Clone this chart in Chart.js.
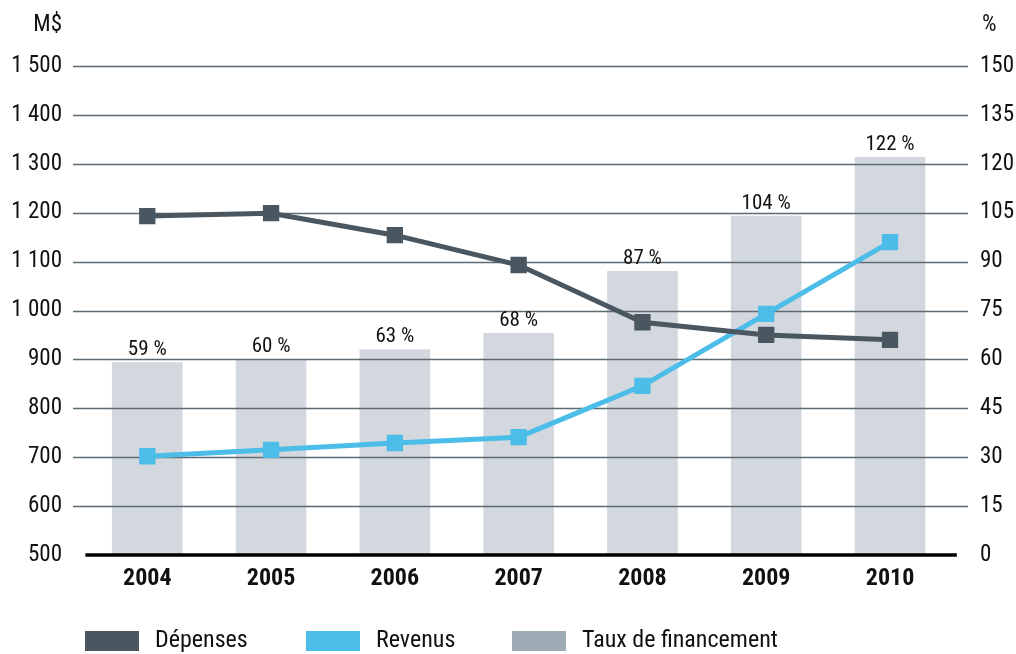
<!DOCTYPE html>
<html><head><meta charset="utf-8">
<script src="https://cdn.jsdelivr.net/npm/chart.js@4"></script>
<style>html,body{margin:0;padding:0;background:#fff}#wrap{width:1016px;height:654px;position:relative}</style>
</head><body><div id="wrap"><canvas id="c" width="1016" height="654"></canvas></div>
<script>
const years = ['2004','2005','2006','2007','2008','2009','2010'];
const depenses = [1193, 1199, 1154, 1093, 976, 950, 940];
const revenus = [702, 715, 729, 741, 846, 993, 1140];
const tauxFinancement = [59, 60, 63, 68, 87, 104, 122];
const leftTicks = [500,600,700,800,900,1000,1100,1200,1300,1400,1500];
const rightTicks = [0,15,30,45,60,75,90,105,120,135,150];

const FONT = '"Roboto Condensed", Roboto, sans-serif';
const DARK = '#4a5760', BLUE = '#4bbde8', BAR = '#d3d8df', BARLEG = '#9eadb5', GRID = '#5d6a72';

const pts = arr => arr.map((v,i)=>({x:i,y:v}));
const fmt = v => v >= 1000 ? String(v).replace(/(\d)(\d{3})$/, '$1 $2') : String(v);

const customPlugin = {
  id: 'custom',
  afterDatasetDraw(chart, args) {
    if (args.index !== 2) return;
    const ctx = chart.ctx, ca = chart.chartArea, y = chart.scales.y, x = chart.scales.x;
    ctx.save();
    ctx.strokeStyle = GRID; ctx.lineWidth = 1.5;
    leftTicks.forEach(v => {
      if (v === leftTicks[0]) return;
      const py = Math.round(y.getPixelForValue(v)) + 0.5;
      ctx.beginPath(); ctx.moveTo(ca.left, py); ctx.lineTo(ca.right, py); ctx.stroke();
    });
    // bottom axis
    ctx.strokeStyle = '#000'; ctx.lineWidth = 3.5;
    const by = y.getPixelForValue(leftTicks[0]);
    ctx.beginPath(); ctx.moveTo(x.getPixelForValue(-0.5), by); ctx.lineTo(x.getPixelForValue(6.54), by); ctx.stroke();
    // bar labels
    ctx.fillStyle = '#111'; ctx.font = '21px ' + FONT; ctx.textAlign = 'center'; ctx.textBaseline = 'bottom';
    chart.getDatasetMeta(2).data.forEach((el, i) => {
      ctx.fillText(tauxFinancement[i] + ' %', el.x, el.y - 2);
    });
    ctx.restore();
  },
  afterDraw(chart) {
    const ctx = chart.ctx;
    ctx.save();
    ctx.fillStyle = '#111'; ctx.font = '23px ' + FONT; ctx.textBaseline = 'middle';
    ctx.textAlign = 'right'; ctx.fillText('M$', 62, 25);
    ctx.textAlign = 'left'; ctx.fillText('%', 982, 25);
    // legend
    const items = [
      {label: chart.data.datasets[0].label, color: DARK, x: 85},
      {label: chart.data.datasets[1].label, color: BLUE, x: 306},
      {label: chart.data.datasets[2].label, color: BARLEG, x: 512}
    ];
    ctx.font = '24px ' + FONT; ctx.textBaseline = 'middle';
    items.forEach(it => {
      ctx.fillStyle = it.color; ctx.fillRect(it.x, 631, 54, 20);
      ctx.fillStyle = '#111'; ctx.fillText(it.label, it.x + 70, 641);
    });
    ctx.restore();
  }
};

new Chart(document.getElementById('c'), {
  data: {
    datasets: [
      {type:'line', label:'Dépenses', data: pts(depenses), yAxisID:'y', borderColor: DARK, backgroundColor: DARK,
       borderWidth: 5, pointStyle:'rect', pointRadius: 8, pointHoverRadius: 8, tension: 0, order: 1},
      {type:'line', label:'Revenus', data: pts(revenus), yAxisID:'y', borderColor: BLUE, backgroundColor: BLUE,
       borderWidth: 5, pointStyle:'rect', pointRadius: 8, pointHoverRadius: 8, tension: 0, order: 2},
      {type:'bar', label:'Taux de financement', data: pts(tauxFinancement), yAxisID:'y1', backgroundColor: BAR,
       barThickness: 70, order: 3}
    ]
  },
  options: {
    responsive: false, animation: false, events: [],
    layout: {padding: {top: 66, bottom: 0, left: 0, right: 0}},
    plugins: {legend: {display: false}, tooltip: {enabled: false}},
    scales: {
      x: {type:'linear', offset: false, min: -0.6, max: 6.63, grid: {display:false, drawTicks:false}, border: {display:false},
          afterBuildTicks: s => { s.ticks = years.map((_, i) => ({value: i})); },
          ticks: {callback: v => years[v] ?? '', color:'#111', font:{family: FONT, size: 24, weight:'bold'}, padding: 10, maxRotation: 0, autoSkip: false},
          afterFit: s => { s.height = 99; }},
      y: {position:'left', min: 500, max: 1500, grid: {display:false, drawTicks:false}, border:{display:false},
          afterBuildTicks: s => { s.ticks = leftTicks.map(v => ({value: v})); },
          ticks: {callback: v => fmt(v), color:'#111', font:{family: FONT, size: 23}, padding: 11},
          afterFit: s => { s.width = 73; }},
      y1: {position:'right', min: 0, max: 150, grid: {display:false, drawTicks:false}, border:{display:false},
          afterBuildTicks: s => { s.ticks = rightTicks.map(v => ({value: v})); },
          ticks: {color:'#111', font:{family: FONT, size: 23}, padding: 12},
          afterFit: s => { s.width = 48; }}
    }
  },
  plugins: [customPlugin]
});
</script></body></html>
